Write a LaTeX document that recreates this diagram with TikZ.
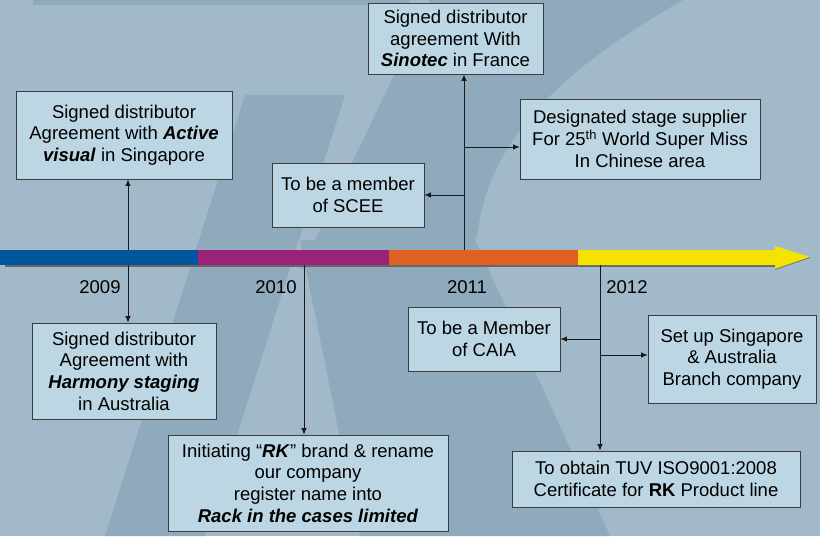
\documentclass[tikz,border=0pt]{standalone}
\usepackage{fontspec}
\setmainfont{Liberation Sans}
\usetikzlibrary{arrows.meta}
\definecolor{bg}{HTML}{A1B9C8}
\definecolor{wm}{HTML}{8EAABC}
\definecolor{boxfill}{HTML}{BCD7E3}
\definecolor{boxline}{HTML}{3C3C3C}
\definecolor{tlblue}{HTML}{00569C}
\definecolor{tlpurple}{HTML}{9B2279}
\definecolor{tlorange}{HTML}{E06022}
\definecolor{tlyellow}{HTML}{F4E200}
\begin{document}
\begin{tikzpicture}[x=1pt,y=-1pt,
  event/.style={draw=boxline, line width=0.9pt, fill=boxfill, align=center, inner sep=0pt, font=\fontsize{18.5}{21.7}\selectfont, text=black},
  link/.style={draw=black!90, line width=0.8pt},
  arr/.style={link, -{Latex[length=6.5pt,width=5.5pt]}},
  year/.style={font=\fontsize{18.5}{22}\selectfont, inner sep=0pt, text=black}]
\fill[bg] (0,0) rectangle (820,536);
\useasboundingbox (0,0) rectangle (820,536);
% watermark
\fill[wm] (33,0) rectangle (410,5);
\fill[wm] (245,95) -- (345,95) -- (205,536) -- (105,536) -- cycle;
\fill[wm] (320,230) -- (430,0) -- (683,0) .. controls (560,70) and (490,140) .. (478,230) -- (470,268) -- (300,268) -- cycle;
\fill[wm] (300,240) -- (475,240) -- (610,536) -- (360,536) -- cycle;
% timeline bar
\fill[black!60] (5,264) rectangle (775,267);
\fill[tlblue] (0,250) rectangle (198,265);
\fill[tlpurple] (198,250) rectangle (389,265);
\fill[tlorange] (389,250) rectangle (578,265);
\fill[tlyellow] (578,250) -- (775,250) -- (775,246) -- (810,257) -- (775,269) -- (775,265) -- (578,265) -- cycle;
\draw[black!55, line width=0.8pt] (810,257.5) -- (775,269.5);
% years
\node[year] (t09) at (100,287) {2009};
\node[year] (t10) at (276,287) {2010};
\node[year] (t11) at (467,287) {2011};
\node[year] (t12) at (627,287) {2012};
% boxes
\node[event, minimum width=216pt, minimum height=88pt] (A) at (124,135) {Signed distributor\\Agreement with \textbf{\textit{Active}}\\\textbf{\textit{visual}} in Singapore};
\node[event, minimum width=175pt, minimum height=71pt] (B) at (455.5,38.5) {Signed distributor\\agreement With\\\textbf{\textit{Sinotec}} in France};
\node[event, minimum width=240pt, minimum height=80pt] (C) at (640,139) {Designated stage supplier\\For 25\textsuperscript{th} World Super Miss\\In Chinese area};
\node[event, minimum width=152pt, minimum height=64pt] (D) at (348,195) {To be a member\\of SCEE};
\node[event, minimum width=184pt, minimum height=96pt] (E) at (124,371) {Signed distributor\\Agreement with\\\textbf{\textit{Harmony staging}}\\in Australia};
\node[event, minimum width=280pt, minimum height=96pt] (F) at (308,483) {Initiating “\textbf{\textit{RK}}” brand \& rename\\our company\\register name into\\\textbf{\textit{Rack in the cases limited}}};
\node[event, minimum width=152pt, minimum height=64pt] (G) at (484,339) {To be a Member\\of CAIA};
\node[event, minimum width=168pt, minimum height=88pt] (H) at (732,359) {Set up Singapore\\\& Australia\\Branch company};
\node[event, minimum width=288pt, minimum height=56pt] (I) at (656,479) {To obtain TUV ISO9001:2008\\Certificate for \textbf{RK} Product line};
% connectors
\coordinate (y09t) at (128,250);
\coordinate (y09b) at (128,265);
\coordinate (y10b) at (304,265);
\coordinate (y11t) at (464,250);
\coordinate (j11a) at (464,147);
\coordinate (j11b) at (464,195);
\coordinate (y12b) at (600,265);
\coordinate (j12a) at (600,339);
\coordinate (j12b) at (600,355);
\draw[arr] (y09t) -- (y09t |- A.south);
\draw[arr] (y09b) -- (y09b |- E.north);
\draw[arr] (y10b) -- (y10b |- F.north);
\draw[arr] (y11t) -- (y11t |- B.south);
\draw[arr] (j11a) -- (j11a -| C.west);
\draw[arr] (j11b) -- (j11b -| D.east);
\draw[arr] (y12b) -- (y12b |- I.north);
\draw[arr] (j12a) -- (j12a -| G.east);
\draw[arr] (j12b) -- (j12b -| H.west);
\end{tikzpicture}
\end{document}
